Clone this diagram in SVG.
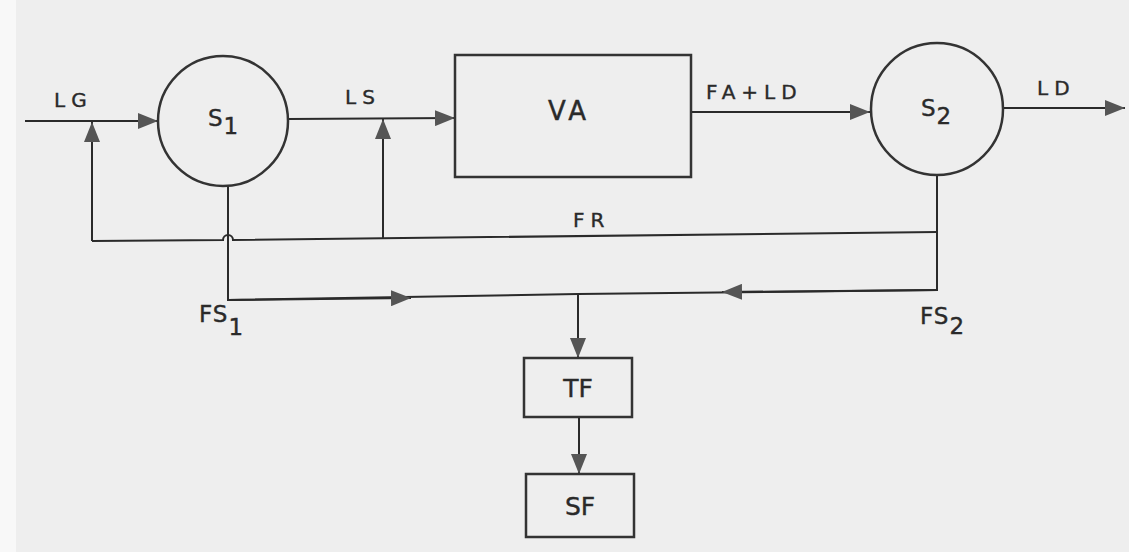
<svg xmlns="http://www.w3.org/2000/svg" width="1129" height="552" viewBox="0 0 1129 552">
<defs>
<style>
.ln{fill:none;stroke:#2a2a2a;stroke-width:2;}
.shape{fill:none;stroke:#333;stroke-width:2.5;}
.t{font-family:"DejaVu Sans","Liberation Sans",sans-serif;fill:#2a2a2a;stroke:#2a2a2a;stroke-width:0.4;font-size:20px;letter-spacing:6px;}
.big{font-size:26px;letter-spacing:4px;}
.sub{font-size:23px;letter-spacing:1px;}
.box{font-size:25px;letter-spacing:0;}
</style>
<marker id="ah" viewBox="0 0 20 16" refX="20" refY="8" markerWidth="20" markerHeight="16" markerUnits="userSpaceOnUse" orient="auto">
<path d="M0,0 L20,8 L0,16 Z" fill="#555"/>
</marker>
</defs>
<rect x="0" y="0" width="1129" height="552" fill="#eeeeee"/>
<rect x="0" y="0" width="16" height="552" fill="#f8f8f8"/>

<g id="connectors">
<line class="ln" x1="25" y1="121" x2="158" y2="121" marker-end="url(#ah)"/>
<path class="ln" d="M92,241 L92,122" marker-end="url(#ah)"/>
<path class="ln" d="M92,241 L223,240 A5,5 0 0 1 233,240 L937,232"/>
<line class="ln" x1="289" y1="119" x2="455" y2="118" marker-end="url(#ah)"/>
<path class="ln" d="M383,238 L383,119" marker-end="url(#ah)"/>
<line class="ln" x1="691" y1="112" x2="870" y2="112" marker-end="url(#ah)"/>
<line class="ln" x1="1003" y1="108" x2="1125" y2="108" marker-end="url(#ah)"/>
<path class="ln" d="M937,175 L937,290 L578,294"/>
<path class="ln" d="M937,290 L722,292" marker-end="url(#ah)"/>
<path class="ln" d="M228,186 L228,300 L578,294"/>
<path class="ln" d="M228,300 L411,298" marker-end="url(#ah)"/>
<line class="ln" x1="578" y1="294" x2="578" y2="358" marker-end="url(#ah)"/>
<line class="ln" x1="579" y1="417" x2="579" y2="474" marker-end="url(#ah)"/>
</g>

<g id="labels">
<text class="t" x="54" y="107">LG</text>
<text class="t" x="345" y="104">LS</text>
<text class="t" x="706" y="99">FA+LD</text>
<text class="t" x="1037" y="95">LD</text>
<text class="t" x="573" y="227">FR</text>
<text class="t sub" x="199" y="322">FS<tspan dy="13">1</tspan></text>
<text class="t sub" x="920" y="324">FS<tspan dy="10">2</tspan></text>
</g>

<g id="S1">
<circle class="shape" cx="223" cy="121" r="65"/>
<text class="t sub" x="208" y="126">S<tspan dy="8">1</tspan></text>
</g>

<g id="VA">
<rect class="shape" x="455" y="55" width="236" height="122"/>
<text class="t big" x="569" y="120" text-anchor="middle">VA</text>
</g>

<g id="S2">
<circle class="shape" cx="937" cy="109" r="66"/>
<text class="t sub" x="921" y="116">S<tspan dy="8">2</tspan></text>
</g>

<g id="TF">
<rect class="shape" x="524" y="358" width="108" height="59"/>
<text class="t box" x="578" y="397" text-anchor="middle">TF</text>
</g>

<g id="SF">
<rect class="shape" x="526" y="474" width="108" height="63"/>
<text class="t box" x="580" y="515" text-anchor="middle">SF</text>
</g>
</svg>
